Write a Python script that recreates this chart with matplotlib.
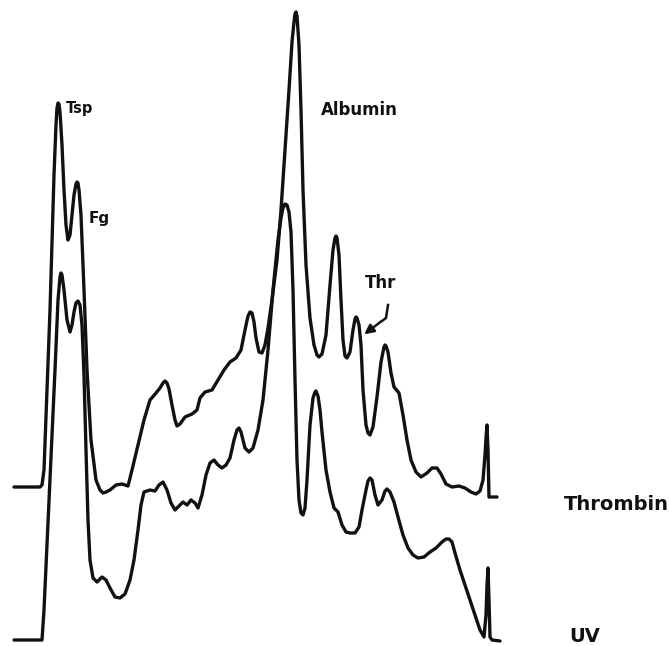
import matplotlib.pyplot as plt

# densitometer traces (x = position, y = depth from top, px)
thr_x = [14, 40, 42, 44, 50, 54, 56, 57, 58, 59, 60, 62, 64, 66, 68, 70, 72, 74,
         76, 77, 78, 79, 81, 84, 87, 91, 96, 100, 103, 106, 110, 116, 122, 128,
         132, 138, 144, 150, 156, 160, 163, 165, 167, 169, 172, 175, 177, 180, 185,
         192, 197, 200, 205, 212, 218, 224, 230, 236, 241, 245, 248, 250, 252, 254,
         256, 259, 262, 265, 268, 272, 277, 281, 285, 289, 292, 294, 295, 296, 297,
         299, 301, 303, 306, 310, 314, 317, 319, 322, 326, 330, 333, 335, 336, 337,
         339, 341, 343, 345, 347, 350, 353, 355, 356, 357, 359, 361, 363, 366, 368,
         370, 373, 377, 381, 384, 385, 386, 388, 391, 394, 399, 403, 407, 411, 416,
         421, 427, 432, 437, 441, 446, 452, 459, 465, 471, 476, 480, 483, 485, 486,
         487, 488, 489, 497]
thr_y = [487, 487, 485, 470, 310, 175, 125, 108, 103, 104, 112, 145, 190, 225, 240,
         235, 215, 195, 184, 182, 183, 190, 215, 290, 370, 440, 480, 490, 493, 492,
         490, 485, 484, 486, 470, 445, 420, 400, 393, 388, 383, 381, 383, 389, 405,
         420, 426, 424, 417, 414, 410, 398, 392, 390, 380, 370, 362, 358, 350, 330,
         316, 312, 313, 322, 338, 352, 353, 345, 328, 300, 260, 210, 150, 90, 42,
         22, 14, 12, 16, 45, 110, 190, 265, 318, 345, 355, 357, 354, 335, 285, 250,
         238, 236, 238, 255, 300, 340, 356, 358, 352, 330, 319, 317, 318, 325, 345,
         390, 425, 433, 435, 427, 397, 362, 347, 345, 346, 352, 373, 387, 393, 415,
         440, 460, 472, 477, 473, 468, 468, 474, 484, 487, 486, 488, 492, 494, 491,
         480, 455, 438, 425, 450, 497, 497]

uv_x = [14, 42, 44, 50, 55, 58, 60, 61, 62, 64, 67, 70, 72, 74, 76, 78, 80, 82, 84,
        86, 88, 90, 93, 97, 102, 106, 110, 115, 120, 125, 130, 134, 138, 141, 144,
        150, 155, 159, 163, 167, 171, 175, 179, 183, 187, 191, 195, 198, 202, 206,
        210, 214, 218, 222, 226, 230, 234, 237, 239, 241, 245, 249, 253, 258, 263,
        268, 273, 278, 281, 283, 285, 287, 289, 291, 293, 295, 297, 299, 301, 303,
        305, 307, 310, 313, 315, 316, 318, 320, 322, 326, 330, 334, 338, 342, 346,
        350, 355, 359, 362, 366, 368, 370, 372, 375, 378, 382, 385, 387, 390, 394,
        398, 403, 408, 413, 418, 424, 430, 436, 442, 446, 449, 452, 455, 460, 465,
        470, 475, 480, 484, 486, 487, 488, 489, 490, 492, 500]
uv_y = [640, 640, 610, 480, 370, 300, 277, 273, 275, 290, 320, 332, 325, 312, 303,
        301, 305, 325, 375, 450, 520, 560, 578, 582, 577, 580, 588, 597, 598, 594,
        580, 560, 530, 505, 492, 490, 491, 485, 482, 490, 503, 510, 506, 502, 505,
        500, 503, 508, 495, 475, 463, 460, 465, 468, 465, 458, 440, 430, 428, 432,
        448, 452, 448, 430, 400, 350, 290, 240, 218, 208, 204, 205, 212, 232, 290,
        380, 460, 500, 513, 515, 508, 480, 425, 398, 392, 391, 396, 410, 432, 470,
        492, 508, 512, 525, 532, 533, 533, 527, 510, 490, 481, 478, 480, 495, 505,
        500, 491, 489, 492, 502, 517, 535, 548, 555, 558, 557, 552, 548, 542, 539,
        539, 542, 553, 570, 585, 600, 615, 630, 637, 615, 585, 568, 600, 637, 640,
        641]

fig = plt.figure(figsize=(6.69, 6.46), dpi=100)
ax = fig.add_axes([0, 0, 1, 1])

ink = '#111111'
for xs, ys in [(thr_x, thr_y), (uv_x, uv_y)]:
    ax.plot(xs, ys, color=ink, lw=2.4, solid_joinstyle='round', solid_capstyle='round')

# peak labels
lab = dict(color=ink, va='center', ha='left', fontweight='bold')
ax.text(66, 109, 'Tsp', fontsize=10.5, **lab)
ax.text(89, 219, 'Fg', fontsize=11, **lab)
ax.text(321, 110, 'Albumin', fontsize=12, **lab)
ax.text(365, 283, 'Thr', fontsize=12, **lab)
ax.text(564, 505, 'Thrombin', fontsize=14, **lab)
ax.text(569, 636, 'UV', fontsize=14, **lab)

# little arrow pointing at the thrombin shoulder
ax.plot([388, 386, 382], [305, 318, 321], color=ink, lw=1.8)
ax.annotate('', xy=(362, 336), xytext=(383, 320),
            arrowprops=dict(arrowstyle='-|>', color=ink, lw=1.8, mutation_scale=14))

ax.set_xlim(0, 669)
ax.set_ylim(646, 0)
ax.axis('off')

plt.savefig('out.png', dpi=100)
